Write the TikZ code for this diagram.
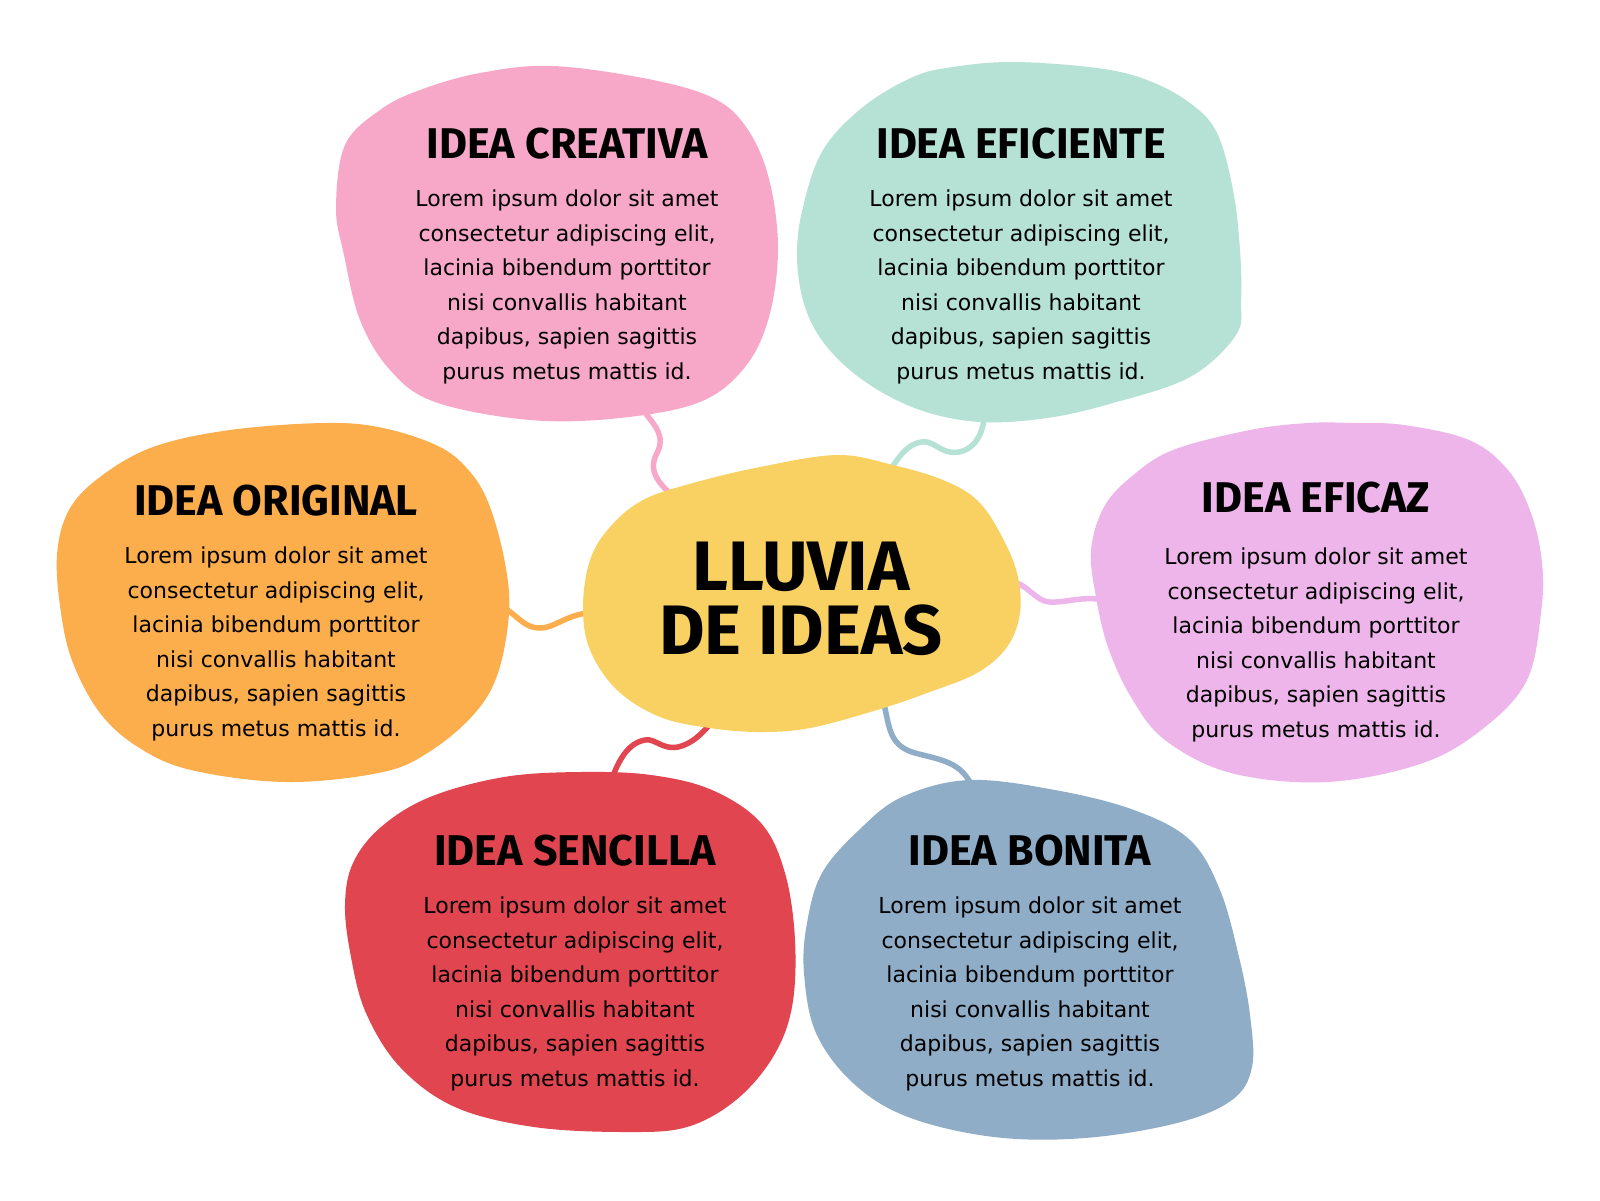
\documentclass[tikz,border=0pt]{standalone}
\usepackage{fontspec}
\setmainfont{DejaVu Sans}
\newfontfamily\headfont{Fira Sans}
\usepackage{tikz}
\usetikzlibrary{positioning}
\usetikzlibrary{shapes.geometric}
\usetikzlibrary{backgrounds}

\definecolor{rosa}{HTML}{F7A8C8}
\definecolor{menta}{HTML}{B5E2D5}
\definecolor{naranja}{HTML}{FCAD4C}
\definecolor{amarillo}{HTML}{F9D163}
\definecolor{lila}{HTML}{EDB5E9}
\definecolor{rojo}{HTML}{E1454F}
\definecolor{azul}{HTML}{8FADC7}

\begin{document}
\begin{tikzpicture}[x=1pt,y=-1pt]
% Style definitions
\tikzset{
    spot/.style={ellipse, inner sep=0pt, minimum width=404pt, minimum height=340pt},
    heading/.style={anchor=base, inner sep=0pt, font=\headfont\bfseries\fontsize{43}{43}\selectfont},
    blurb/.style={inner sep=0pt, align=center, font=\fontsize{22}{34.5}\selectfont},
    link/.style={line width=5.5pt, line cap=round},
    blob/.style={smooth cycle, tension=0.6}
}

\useasboundingbox (0,0) rectangle (1600,1200);

% Blob anchors
\node[spot] (creativa) at (555,242) {};
\node[spot] (eficiente) at (1020,242) {};
\node[spot] (original) at (282,602) {};
\node[spot] (eficaz) at (1316,602) {};
\node[spot] (sencilla) at (568,952) {};
\node[spot] (bonita) at (1029,960) {};

% Central idea
\node[spot, minimum width=400pt, minimum height=220pt, align=center,
      font=\headfont\bfseries\fontsize{70}{64}\selectfont] (lluvia) at (801,599) {LLUVIA\\DE IDEAS};

% Headings
\node[heading] (creativa-title) at (567,158) {IDEA CREATIVA};
\node[heading] (eficiente-title) at (1021,158) {IDEA EFICIENTE};
\node[heading] (original-title) at (276,515) {IDEA ORIGINAL};
\node[heading] (eficaz-title) at (1316,512) {IDEA EFICAZ};
\node[heading] (sencilla-title) at (575,865) {IDEA SENCILLA};
\node[heading] (bonita-title) at (1030,865) {IDEA BONITA};

% Texts
\node[blurb, below=32pt of creativa-title.base] (creativa-text) {
    Lorem ipsum dolor sit amet\\
    consectetur adipiscing elit,\\
    lacinia bibendum porttitor\\
    nisi convallis habitant\\
    dapibus, sapien sagittis\\
    purus metus mattis id.
};
\node[blurb, below=32pt of eficiente-title.base] (eficiente-text) {
    Lorem ipsum dolor sit amet\\
    consectetur adipiscing elit,\\
    lacinia bibendum porttitor\\
    nisi convallis habitant\\
    dapibus, sapien sagittis\\
    purus metus mattis id.
};
\node[blurb, below=32pt of original-title.base] (original-text) {
    Lorem ipsum dolor sit amet\\
    consectetur adipiscing elit,\\
    lacinia bibendum porttitor\\
    nisi convallis habitant\\
    dapibus, sapien sagittis\\
    purus metus mattis id.
};
\node[blurb, below=36pt of eficaz-title.base] (eficaz-text) {
    Lorem ipsum dolor sit amet\\
    consectetur adipiscing elit,\\
    lacinia bibendum porttitor\\
    nisi convallis habitant\\
    dapibus, sapien sagittis\\
    purus metus mattis id.
};
\node[blurb, below=32pt of sencilla-title.base] (sencilla-text) {
    Lorem ipsum dolor sit amet\\
    consectetur adipiscing elit,\\
    lacinia bibendum porttitor\\
    nisi convallis habitant\\
    dapibus, sapien sagittis\\
    purus metus mattis id.
};
\node[blurb, below=32pt of bonita-title.base] (bonita-text) {
    Lorem ipsum dolor sit amet\\
    consectetur adipiscing elit,\\
    lacinia bibendum porttitor\\
    nisi convallis habitant\\
    dapibus, sapien sagittis\\
    purus metus mattis id.
};

\begin{scope}[on background layer]
% Canvas
\fill[white] (0,0) rectangle (1600,1200);

% Wavy links
\draw[link, rosa] (creativa.-63) .. controls (648,420) and (668,432) .. (657,453)
    .. controls (648,470) and (655,484) .. (lluvia.141);
\draw[link, menta] (eficiente.-102) .. controls (985,440) and (968,455) .. (950,452)
    .. controls (938,450) and (932,440) .. (921,442)
    .. controls (905,445) and (895,460) .. (lluvia.54);
\draw[link, naranja] (original.0) .. controls (515,605) and (518,628) .. (540,628)
    .. controls (557,628) and (570,610) .. (lluvia.184);
\draw[link, lila] (lluvia.5) .. controls (1025,576) and (1032,601) .. (1050,602)
    .. controls (1068,603) and (1085,594) .. (eficaz.180);
\draw[link, rojo] (lluvia.235) .. controls (712,720) and (700,742) .. (678,747)
    .. controls (662,750) and (655,738) .. (645,740)
    .. controls (628,743) and (618,760) .. (sencilla.76);
\draw[link, azul] (lluvia.-51) .. controls (890,722) and (886,745) .. (915,753)
    .. controls (945,761) and (965,762) .. (bonita.108);

% Blobs
\fill[rosa] plot[blob] coordinates {(345,145) (380,110) (420,90) (480,73)
    (553,66) (653,80) (717,100) (750,133) (770,183) (778,250) (769,317) (745,367) (700,402)
    (620,418) (530,420) (435,402) (390,370) (360,320) (344,255) (336,208)};
\fill[menta] plot[blob] coordinates {(913,77) (953,67) (1013,62) (1097,68)
    (1147,80) (1190,103) (1217,133) (1233,190) (1240,250) (1241,300) (1236,335)
    (1190,377) (1113,403) (1047,418) (980,422) (920,410) (867,383) (827,347) (805,307)
    (797,257) (803,207) (823,150) (863,107)};
\fill[naranja] plot[blob] coordinates {(153,447) (230,430) (325,423)
    (383,428) (440,447) (471,473) (490,507) (505,563) (509,613) (498,673) (475,713) (432,750)
    (383,772) (287,782) (191,770) (138,747) (100,713) (73,663) (61,613) (57,555)
    (69,510) (100,477)};
\fill[lila] plot[blob] coordinates {(1173,450) (1250,430) (1308,423)
    (1354,423) (1404,425) (1469,440) (1508,470) (1531,513) (1542,563) (1541,613) (1527,680)
    (1485,727) (1423,763) (1327,782) (1231,773) (1165,740) (1131,697) (1108,647) (1096,597)
    (1091,550) (1104,507) (1131,477)};
\fill[rojo] plot[blob] coordinates {(430,797) (504,777) (580,772)
    (651,775) (712,790) (761,823) (785,873) (795,940) (792,1007) (773,1057) (736,1100)
    (687,1127) (626,1132) (534,1127) (455,1107) (400,1067) (366,1013) (351,957)
    (345,905) (353,863) (381,827)};
\fill[azul] plot[blob] coordinates {(902,797) (969,780) (1055,790) (1134,810) (1190,840)
    (1220,890) (1239,957) (1250,1015) (1252,1067) (1232,1100) (1177,1123) (1085,1138)
    (994,1137) (908,1117) (853,1083) (816,1033) (804,973) (807,923) (822,873) (859,830)};
\fill[amarillo] plot[blob] coordinates {(760,467) (837,455) (893,465)
    (943,480) (977,500) (1000,533) (1017,573) (1020,613) (1007,647) (977,673) (927,693)
    (877,710) (810,728) (760,732) (710,728) (660,717) (617,690) (590,650) (583,607)
    (590,560) (610,527) (643,500) (693,483)};
\end{scope}

\end{tikzpicture}
\end{document}
